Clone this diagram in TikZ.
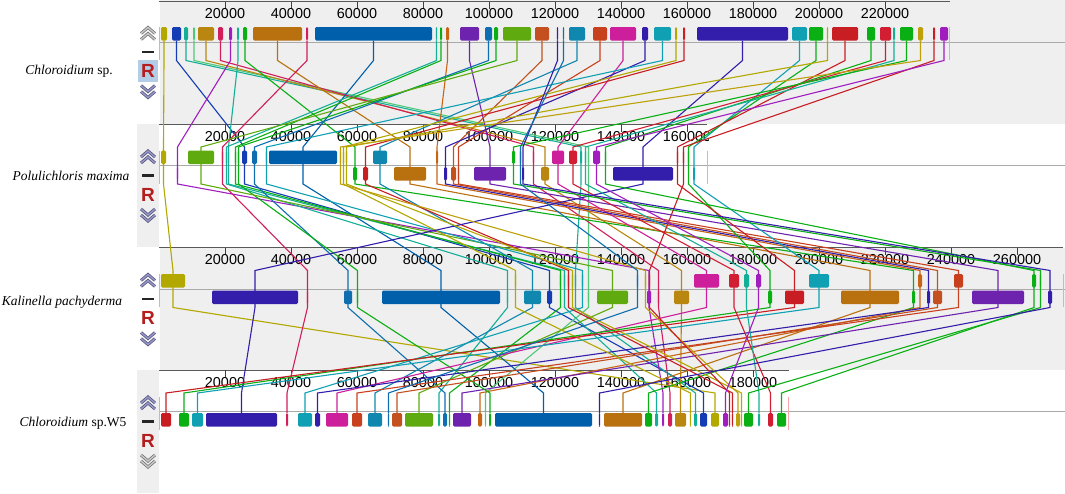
\documentclass[tikz,border=0pt]{standalone}
\usepackage{fontspec}
\setmainfont{Liberation Serif}
\setsansfont{Liberation Sans}
\usetikzlibrary{calc}

\definecolor{panelgrey}{RGB}{239,239,239}
\definecolor{midline}{RGB}{170,170,170}
\definecolor{endmark}{RGB}{245,165,170}
\definecolor{lav}{RGB}{150,150,205}
\definecolor{offgrey}{RGB}{200,200,200}
\definecolor{rred}{RGB}{180,30,30}
\definecolor{rsel}{RGB}{180,205,230}
% block colours
\definecolor{cOlive}{RGB}{178,168,0}
\definecolor{cDkBlue}{RGB}{20,60,180}
\definecolor{cTeal}{RGB}{20,175,150}
\definecolor{cLtGreen}{RGB}{80,200,120}
\definecolor{cOchre}{RGB}{185,135,15}
\definecolor{cCrimson}{RGB}{210,30,90}
\definecolor{cPurple}{RGB}{160,30,190}
\definecolor{cGreen}{RGB}{10,175,20}
\definecolor{cBrown}{RGB}{185,112,15}
\definecolor{cBlue}{RGB}{0,95,170}
\definecolor{cOrange}{RGB}{200,100,20}
\definecolor{cViolet}{RGB}{110,35,175}
\definecolor{cMidBlue}{RGB}{15,110,175}
\definecolor{cLeaf}{RGB}{95,170,15}
\definecolor{cRust}{RGB}{195,80,30}
\definecolor{cSteel}{RGB}{15,135,175}
\definecolor{cRustB}{RGB}{200,65,30}
\definecolor{cMagenta}{RGB}{205,30,155}
\definecolor{cIndigo}{RGB}{50,30,170}
\definecolor{cTealB}{RGB}{15,160,180}
\definecolor{cRed}{RGB}{200,30,35}
\definecolor{cRedB}{RGB}{210,30,50}
\definecolor{cGold}{RGB}{190,160,10}

\pgfdeclarelayer{bg}
\pgfdeclarelayer{wires}
\pgfsetlayers{bg,wires,main}

\tikzset{
  blk/.style={rectangle, rounded corners=1.3pt, inner sep=0pt, minimum height=13.5pt, draw=none},
  wire/.style={line width=1.1pt},
  axisline/.style={draw=black!65, line width=0.9pt},
  tickline/.style={draw=black!75, line width=0.8pt},
  num/.style={font=\sffamily\fontsize{14.4}{15}\selectfont, inner sep=0pt},
  gname/.style={font=\fontsize{13.5}{15}\selectfont, inner sep=0pt},
  chevout/.style={line width=3pt, draw=#1!60!black},
  chevin/.style={line width=1.4pt, draw=#1},
}

% axis with ruler ticks: top y, number of ticks, end x
\newcommand{\seqaxis}[3]{%
  \begin{scope}
    \clip (159,#1-2) rectangle (#3+1,#1+22);
    \draw[axisline] (159,#1) -- (#3,#1);
    \foreach \t in {1,...,#2}{
      \draw[tickline] ({159+66*\t},#1) -- ++(0,7);
      \node[num] at ({159+66*\t},#1+12.5) {\the\numexpr\t*20000\relax};
    }
  \end{scope}}

% double chevron: x, y, 1 = up / -1 = down, colour
\newcommand{\chevs}[4]{%
  \foreach \o in {0,6}{
    \draw[chevout=#4] (#1-7,{#2+(\o-0.5)*#3}) -- (#1,{#2+(\o-6.5)*#3}) -- (#1+7,{#2+(\o-0.5)*#3});
    \draw[chevin=#4] (#1-7,{#2+(\o-0.5)*#3}) -- (#1,{#2+(\o-6.5)*#3}) -- (#1+7,{#2+(\o-0.5)*#3});
  }}

% buttons beside one genome: centre line y, up colour, down colour
\newcommand{\buttons}[3]{%
  \chevs{148}{#1-8}{1}{#2}
  \draw[line width=2.4pt, black!85] (142,#1+10) -- (154,#1+10);
  \node[font=\sffamily\bfseries\fontsize{19}{19}\selectfont, text=rred] at (148,#1+29) {R};
  \chevs{148}{#1+49}{-1}{#3}}

\begin{document}
\begin{tikzpicture}[x=1pt,y=-1pt]
\useasboundingbox (0,0) rectangle (1065,493);

% kink levels
\coordinate (lo1) at (0,60.5);
\coordinate (up2) at (0,147);
\coordinate (lo2) at (0,184);
\coordinate (up3) at (0,270.5);
\coordinate (lo3) at (0,307.5);
\coordinate (up4) at (0,393);

\begin{pgfonlayer}{bg}
  % panels
  \fill[panelgrey] (160,0) rectangle (1065,123.5);
  \fill[panelgrey] (137,124) rectangle (159,247);
  \fill[panelgrey] (160,247.5) rectangle (1065,370);
  \fill[panelgrey] (137,370) rectangle (159,493);
  \fill[rsel] (138,60) rectangle (158,82);
  % centre lines
  \foreach \y in {42,165.5,289,411.5}
    \draw[midline, line width=0.8pt] (160,\y) -- (1065,\y);
  % start and end marks
  \foreach \y/\e in {42/949,165.5/707,289/1063,411.5/788}{
    \draw[endmark, line width=1pt] (159.5,\y-15) -- (159.5,\y+18);
    \draw[endmark, line width=1pt] (\e,\y-15) -- (\e,\y+18);
  }
  % rulers
  \seqaxis{1.5}{11}{950}
  \seqaxis{124.5}{8}{707}
  \seqaxis{247.5}{13}{1063}
  \seqaxis{370}{9}{789}
  % buttons
  \buttons{42}{offgrey}{lav}
  \buttons{165.5}{lav}{lav}
  \buttons{289}{lav}{lav}
  \buttons{411.5}{lav}{offgrey}
  % genome names
  \node[gname] at (69,71) {\textit{Chloroidium} sp.};
  \node[gname] at (71,176) {\textit{Polulichloris maxima}};
  \node[gname] at (62,302) {\textit{Kalinella pachyderma}};
  \node[gname] at (73,423) {\textit{Chloroidium} sp.W5};
\end{pgfonlayer}

% blocks: id/colour/genome1 from-to/genome2 from-to,row/genome3 from-to,row/genome4 from-to
\foreach \id/\col/\ua/\ub/\va/\vb/\vr/\wa/\wb/\wr/\za/\zb in {
  1/cOlive/161/167/161/166/-1/161/185/-1/711/719,
  2/cDkBlue/172/181/242/247/-1/547/552/1/700/707,
  3/cTeal/184/188/580/582/-1/575/576/-1/694/697,
  4/cLtGreen/193/195/588/589/-1/588/589/1/485/486,
  5/cOchre/198/214/541/549/1/674/689/1/675/686,
  6/cCrimson/218/223/533/534/-1/658/659/1/668/672,
  7/cPurple/229/232/177/178/1/647/651/1/662/664,
  8/cTeal/237/239/228/229/-1/564/565/-1/655/658,
  9/cGreen/243/247/353/357/1/912/915/1/645/652,
  10/cBrown/253/302/394/426/1/841/899/1/604/642,
  11/cCrimson/306/308/222/223/-1/307/308/1/286/288,
  12/cBlue/315/432/269/337/-1/382/500/1/495/592,
  13/cTeal/436/437/226/227/-1/507/508/1/438/440,
  14/cGreen/440/442/235/236/-1/560/561/-1/449/450,
  15/cOrange/446/449/436/438/-1/918/922/-1/478/482,
  16/cViolet/460/479/474/506/1/972/1024/1/453/471,
  17/cMidBlue/485/492/252/257/-1/344/352/1/443/447,
  18/cGreen/494/498/238/239/-1/357/358/1/489/491,
  19/cLeaf/503/531/188/214/-1/597/628/1/405/433,
  20/cRust/535/549/451/456/1/933/942/1/392/402,
  21/cSteel/569/585/373/387/-1/524/541/1/368/382,
  22/cRustB/593/607/458/459/1/954/963/-1/352/362,
  23/cMagenta/610/636/552/564/-1/694/719/-1/326/348,
  24/cIndigo/642/648/444/447/1/927/930/1/315/320,
  25/cTealB/654/671/266/267/-1/582/583/-1/298/312,
  26/cOlive/675/677/343/344/-1/515/516/-1/690/691,
  27/cRed/683/685/363/368/1/568/569/-1/732/733,
  28/cIndigo/697/788/613/673/1/212/298/1/206/277,
  29/cTealB/792/807/693/695/1/809/829/-1/192/203,
  30/cGreen/809/823/688/689/-1/768/772/1/179/189,
  31/cOlive/827/828/346/347/-1/572/573/-1/741/742,
  32/cRed/832/858/677/678/-1/785/804/1/161/171,
  33/cGreen/867/875/605/606/-1/1032/1036/-1/777/786,
  34/cRedB/880/891/569/577/-1/729/739/-1/768/773,
  35/cTeal/893/895/585/586/-1/744/749/-1/758/760,
  36/cGreen/900/913/512/515/-1/1040/1041/-1/744/753,
  37/cGold/918/923/340/341/-1/645/646/-1/736/740,
  38/cRed/933/935/683/684/-1/649/650/-1/729/730,
  39/cPurple/940/948/593/600/-1/756/761/-1/723/728,
  40/cIndigo/557/558/522/524/1/1048/1052/1/599/600,
  41/cMidBlue/563/564/520/521/-1/637/638/-1/388/389}{
  \pgfmathsetmacro\wA{max(\ub-\ua,1.4)}
  \pgfmathsetmacro\wB{max(\vb-\va,1.4)}
  \pgfmathsetmacro\wC{max(\wb-\wa,1.4)}
  \pgfmathsetmacro\wD{max(\zb-\za,1.4)}
  \node[blk, fill=\col, minimum width=\wA pt] (ga\id) at ({(\ua+\ub)/2},33.75) {};
  \node[blk, fill=\col, minimum width=\wB pt] (gb\id) at ({(\va+\vb)/2},{165.5+\vr*8.25}) {};
  \node[blk, fill=\col, minimum width=\wC pt] (gc\id) at ({(\wa+\wb)/2},{289+\wr*8.25}) {};
  \node[blk, fill=\col, minimum width=\wD pt] (gd\id) at ({(\za+\zb)/2},419.75) {};
  \begin{pgfonlayer}{wires}
    \draw[wire, \col] (ga\id.south) -- (ga\id |- lo1) -- (gb\id |- up2) -- (gb\id |- lo2)
      -- (gc\id |- up3) -- (gc\id |- lo3) -- (gd\id |- up4) -- (gd\id.north);
  \end{pgfonlayer}
}

\end{tikzpicture}
\end{document}
